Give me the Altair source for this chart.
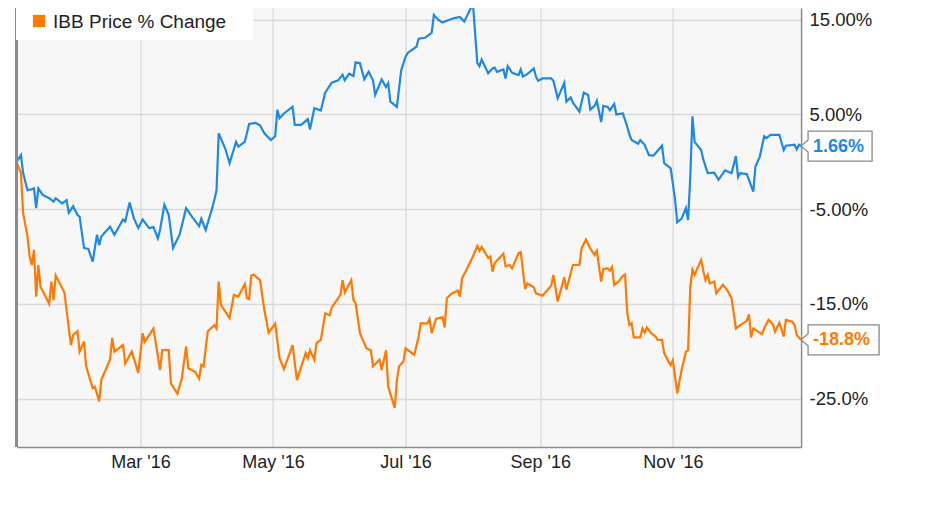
import altair as alt
import pandas as pd

# ---- data (percent change since 2016-01-04) ----
stock_dates = ["01-04","01-06","01-07","01-09","01-11","01-12","01-13","01-14","01-16","01-19","01-21","01-22","01-25","01-27","01-28","01-30",
"02-01","02-02","02-04","02-06","02-08","02-10","02-11","02-12","02-16","02-18","02-22","02-23","02-25","02-27","02-29",
"03-02","03-05","03-07","03-09","03-10","03-12","03-14","03-16","03-19","03-22","03-25","03-28","03-29","03-31",
"04-03","04-04","04-05","04-06","04-09","04-11","04-14","04-15","04-18","04-20","04-23","04-25","04-27","04-30",
"05-02","05-03","05-04","05-06","05-10","05-11","05-14","05-17","05-18","05-20","05-23","05-25","05-28","05-31",
"06-02","06-03","06-05","06-07","06-08","06-10","06-12","06-14","06-16","06-17","06-20","06-22","06-23","06-24","06-27","06-29",
"07-01","07-02","07-06","07-07","07-10","07-13","07-14","07-16","07-18","07-20","07-23","07-26","07-28",
"08-01","08-03","08-04","08-05","08-08","08-10","08-11","08-12","08-15","08-16","08-17","08-19","08-22","08-23","08-24","08-26","08-29","08-30","08-31",
"09-02","09-06","09-07","09-09","09-12","09-13","09-15","09-16","09-19","09-21","09-23","09-24","09-26","09-27","09-29","09-30",
"10-02","10-03","10-05","10-06","10-09","10-11","10-12","10-13","10-16","10-17","10-19","10-21","10-23","10-24","10-27","10-28","10-31",
"11-02","11-03","11-05","11-07","11-08","11-09","11-10","11-11","11-14","11-15","11-17","11-20","11-21","11-22","11-25","11-28","11-30",
"12-01","12-02","12-05","12-06","12-08","12-09","12-11","12-13","12-14","12-16","12-20","12-22","12-23","12-27","12-28","12-29","12-30"]
stock_values = [0,0.7,-1.2,-3.0,-2.9,-2.8,-4.9,-2.8,-3.5,-3.85,-4.2,-3.85,-4.4,-4.05,-5.4,-4.7,
-5.6,-5.8,-9.1,-9.2,-10.55,-7.7,-8.8,-7.9,-6.85,-7.7,-6.1,-6.3,-4.3,-6.0,-7.0,
-6.1,-7.0,-6.9,-8.1,-7.2,-4.55,-5.6,-9.1,-7.7,-4.9,-5.9,-6.8,-6.0,-7.2,
-4.9,-4.0,-3.0,3.0,1.4,-0.15,2.1,1.6,2.1,4.0,4.1,3.85,3.0,2.3,
2.7,5.5,4.6,5.1,5.8,3.9,3.9,4.5,3.4,5.65,5.4,7.3,8.35,8.6,
9.2,8.6,9.3,9.05,10.5,10.4,8.7,9.5,8.6,7.05,8.7,7.9,8.3,6.35,5.8,9.7,
11.1,11.5,12.15,13.0,13.1,13.6,15.5,15.0,14.7,14.9,15.15,15.3,14.8,
16.7,10.45,10.1,10.8,9.35,9.85,9.95,9.5,9.75,8.8,10.1,9.4,9.15,9.75,9.0,9.25,9.85,9.0,8.55,
8.8,8.8,8.55,6.7,8.35,6.35,6.8,6.25,5.3,7.3,7.05,5.5,5.9,6.45,4.2,5.9,
5.8,5.45,6.1,5.0,5.1,3.7,2.85,2.3,1.9,2.3,1.8,0.7,0.65,0.9,1.7,-0.15,-0.7,
-4.0,-6.4,-6.0,-4.9,-6.15,-1.6,4.8,2.1,1.25,0.25,-1.2,-1.15,-1.5,-1.9,-0.9,-1.2,0.6,
-1.6,-1.2,-1.3,-1.9,-3.15,-0.5,0.55,2.7,2.5,2.85,2.85,1.25,1.7,1.8,1.3,1.8,1.66]

ibb_dates = ["01-04","01-06","01-07","01-09","01-10","01-11","01-12","01-13","01-14","01-15","01-19","01-20","01-21","01-22","01-26","01-29","01-30",
"02-01","02-02","02-04","02-05","02-08","02-09","02-11","02-12","02-16","02-17","02-18","02-22","02-23","02-26","02-29",
"03-02","03-03","03-07","03-10","03-11","03-14","03-15","03-18","03-20","03-22","03-23","03-26","03-28","03-29","03-30",
"04-01","04-04","04-05","04-06","04-07","04-11","04-13","04-15","04-18","04-19","04-20","04-21","04-22","04-25","04-27","04-29",
"05-02","05-04","05-06","05-10","05-12","05-16","05-17","05-18","05-20","05-21","05-23","05-25","05-27","05-28",
"06-01","06-02","06-03","06-06","06-07","06-08","06-10","06-13","06-15","06-16","06-19","06-20","06-22","06-23","06-26","06-27","06-28","06-30",
"07-01","07-05","07-07","07-08","07-11","07-12","07-13","07-15","07-18","07-19","07-20","07-22","07-25","07-26","07-27","07-29",
"08-01","08-03","08-04","08-05","08-08","08-09","08-10","08-11","08-15","08-16","08-18","08-19","08-22","08-23","08-25","08-26","08-29","08-30",
"09-02","09-06","09-07","09-09","09-12","09-13","09-16","09-19","09-20","09-22","09-24","09-26","09-27","09-29","09-30",
"10-02","10-03","10-04","10-05","10-07","10-09","10-10","10-11","10-12","10-13","10-14","10-17","10-18","10-19","10-20","10-22","10-24","10-25","10-27","10-28","10-30","10-31",
"11-01","11-03","11-05","11-07","11-08","11-09","11-10","11-11","11-12","11-14","11-15","11-16","11-17","11-18","11-20","11-21","11-24","11-26","11-28","11-30",
"12-02","12-05","12-06","12-07","12-08","12-12","12-13","12-15","12-17","12-18","12-20","12-22","12-23","12-26","12-27","12-28","12-30"]
ibb_values = [0,-1.2,-5.4,-7.9,-10.0,-10.9,-9.3,-14.25,-10.9,-13.2,-15.0,-12.65,-14.6,-12.0,-13.8,-19.35,-18.3,
-17.9,-20.05,-19.0,-21.6,-23.9,-23.75,-25.3,-23.0,-20.9,-18.6,-20.05,-19.35,-21.3,-20.05,-22.3,
-18.1,-19.0,-17.6,-22.0,-19.9,-19.9,-23.4,-24.5,-22.9,-19.5,-21.8,-22.15,-22.9,-21.45,-21.6,
-17.9,-17.25,-17.6,-12.65,-15.1,-16.5,-14.05,-14.25,-12.9,-14.4,-14.5,-12.0,-11.9,-12.5,-15.65,-18.05,
-17.1,-20.75,-21.9,-19.35,-23.05,-20.2,-20.75,-19.9,-20.9,-19.15,-18.8,-16.0,-16.2,-15.4,
-14.05,-12.5,-13.8,-12.5,-14.6,-14.95,-18.1,-19.7,-19.9,-21.6,-20.9,-22.0,-19.9,-23.75,-26.0,-23.05,-21.6,-21.1,
-19.7,-20.4,-18.45,-17.05,-17.1,-16.6,-18.1,-16.6,-16.4,-17.5,-14.4,-13.95,-13.6,-14.25,-12.3,-11.4,
-10.0,-8.9,-9.4,-9.0,-10.15,-10.0,-11.6,-10.7,-9.7,-11.05,-10.9,-11.25,-9.65,-9.55,-13.45,-12.85,-13.25,-13.9,
-14.15,-13.1,-11.95,-14.75,-12.2,-13.5,-10.9,-10.9,-9.15,-8.2,-9.15,-9.85,-9.4,-12.65,-11.35,
-11.25,-11.5,-11.1,-13.0,-12.65,-12.05,-11.9,-16.0,-17.25,-17.05,-18.55,-18.55,-17.6,-18.05,-17.5,-18.1,-18.45,-18.8,-18.8,-20.2,-21.1,-21.45,
-20.95,-24.45,-22.0,-20.05,-19.9,-13.2,-11.4,-11.95,-11.4,-10.35,-11.5,-12.5,-11.95,-12.85,-12.65,-13.9,-13.0,-13.55,-14.4,-17.6,
-17.25,-16.8,-16.1,-18.55,-17.6,-18.2,-17.6,-16.7,-17.15,-17.95,-17.0,-18.45,-16.7,-16.9,-17.25,-18.3,-18.8]

series_names = ["Price % Change", "IBB Price % Change"]
series_colors = ["#1f88e5", "#ff7a00"]
end_labels = ["1.66%", "-18.8%"]
y_ticks = [15, 5, -5, -15, -25]
x_tick_months = [3, 5, 7, 9, 11]

# ---- layout ----
W, H = 784.5, 439
FONT = "Liberation Sans"

rows = []
for d, v in zip(stock_dates, stock_values):
    rows.append({"date": "2016-" + d, "value": v, "series": series_names[0]})
for d, v in zip(ibb_dates, ibb_values):
    rows.append({"date": "2016-" + d, "value": v, "series": series_names[1]})
df = pd.DataFrame(rows)

end_df = pd.DataFrame({
    "date": ["2016-" + stock_dates[-1], "2016-" + ibb_dates[-1]],
    "value": [stock_values[-1], ibb_values[-1]],
    "series": series_names,
    "label": end_labels,
})

x_scale = alt.Scale(type="utc",
                    domain=[alt.DateTime(year=2016, month=1, date=4, utc=True),
                            alt.DateTime(year=2016, month=12, date=30, utc=True)])
y_scale = alt.Scale(domain=[-30.12, 16.24], nice=False, zero=False)
color_scale = alt.Scale(domain=series_names, range=series_colors)

x_axis = alt.Axis(values=[alt.DateTime(year=2016, month=m, date=1, utc=True) for m in x_tick_months],
                  format="%b '%y", title=None, grid=True, gridColor="#dadada", gridWidth=1.3,
                  ticks=False, domain=True, domainColor="#8c8c8c", domainWidth=1.5,
                  labelFont=FONT, labelFontSize=18, labelColor="#222222", labelPadding=7)
y_axis = alt.Axis(orient="right", values=y_ticks, title=None, grid=True, gridColor="#dadada",
                  gridWidth=1.3, ticks=False, domain=True, domainColor="#8c8c8c", domainWidth=1.5,
                  labelFont=FONT, labelFontSize=18.5, labelColor="#222222", labelPadding=8,
                  labelBaseline="middle",
                  labelExpr="(datum.value < 0 ? '-' : '') + "
                            "(datum.value > -10 ? format(abs(datum.value), '.2f') : format(abs(datum.value), '.1f')) + '%'")

lines = alt.Chart(df).mark_line(strokeWidth=2.2, clip=True).encode(
    x=alt.X("date:T", scale=x_scale, axis=x_axis),
    y=alt.Y("value:Q", scale=y_scale, axis=y_axis),
    color=alt.Color("series:N", scale=color_scale, legend=None),
    order=alt.Order("date:T"),
)

left_border = alt.Chart(df).mark_rule(color="#8c8c8c", strokeWidth=1.5).encode(
    x=alt.value(0), y=alt.value(0), y2=alt.value(H))

# legend box (top-left, inside the plot)
legend_box = alt.Chart(df).mark_rect(fill="white", opacity=0.85).encode(
    x=alt.value(0), x2=alt.value(236.5), y=alt.value(0), y2=alt.value(32))
legend_sym = alt.Chart(pd.DataFrame({"s": [series_names[1]]})).mark_square(size=150, opacity=1).encode(
    x=alt.value(22.4), y=alt.value(13),
    color=alt.Color("s:N", scale=color_scale, legend=None))
legend_txt = alt.Chart(pd.DataFrame({"s": [series_names[1]]})).mark_text(
    align="left", baseline="middle", font=FONT, fontSize=19, color="#222222").encode(
    x=alt.value(36.5), y=alt.value(13.5), text="s:N")

# end-of-line callouts
u = 36.0  # unit of the custom symbol, px (size = (2u)^2)
def callout(width_px):
    p = 7 / u; r = width_px / u; h = 15 / u; a = 6 / u
    return (f"M0,0 L{p:.3f},{-a:.3f} L{p:.3f},{-h:.3f} L{r:.3f},{-h:.3f} "
            f"L{r:.3f},{h:.3f} L{p:.3f},{h:.3f} L{p:.3f},{a:.3f} Z")

call_box = alt.Chart(end_df).mark_point(filled=True, fill="white", stroke="#8a8a8a",
                                        strokeWidth=1.3, opacity=1, size=(2 * u) ** 2, clip=False).encode(
    x=alt.X("date:T", scale=x_scale),
    y=alt.Y("value:Q", scale=y_scale),
    shape=alt.Shape("series:N", scale=alt.Scale(domain=series_names,
                                                 range=[callout(71), callout(78)]), legend=None),
)
call_txt = alt.Chart(end_df).mark_text(align="left", baseline="middle", dx=12, dy=0.5,
                                       font=FONT, fontSize=18, fontWeight="bold", clip=False).encode(
    x=alt.X("date:T", scale=x_scale),
    y=alt.Y("value:Q", scale=y_scale),
    text="label:N",
    color=alt.Color("series:N", scale=color_scale, legend=None),
)

chart = alt.layer(lines, left_border, legend_box, legend_sym, legend_txt, call_box, call_txt).properties(
    width=W, height=H,
    autosize=alt.AutoSizeParams(type="none"),
    padding={"left": 8.6, "top": 0, "right": 110, "bottom": 51},
    background="white",
).configure_view(stroke=None, fill="#f7f7f7")

chart.save("out.html", embed_options={"renderer": "svg", "actions": False})
